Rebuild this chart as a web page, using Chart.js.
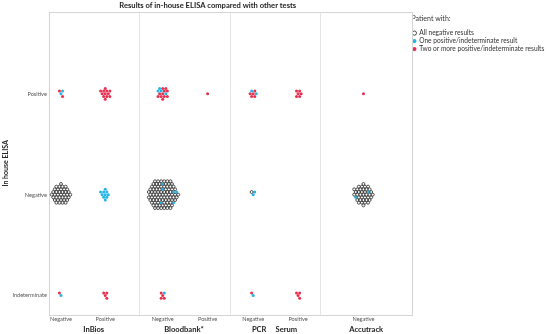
<!DOCTYPE html>
<html>
<head>
<meta charset="utf-8">
<script src="https://cdn.jsdelivr.net/npm/chart.js@4.4.1/dist/chart.umd.min.js"></script>
<style>
html,body{margin:0;padding:0;background:#fff;}
#wrap{width:550px;height:334px;}
</style>
</head>
<body>
<div id="wrap"><canvas id="chart"></canvas></div>
<script>
// rows of the in-house ELISA result (y = 0, 1, 2)
const rowLabels = ["Indeterminate", "Negative", "Positive"];
// columns: other test and its result
const colTests = ["InBios", "InBios", "Bloodbank*", "Bloodbank*", "PCR", "Serum", "Accutrack"];
const colResults = ["Negative", "Positive", "Negative", "Positive", "Negative", "Positive", "Negative"];
const groupNames = ["InBios", "Bloodbank*", "PCR", "Serum", "Accutrack"];

// number of patients per cell  [row][column]
const allNegative = [
    [0, 0, 0, 0, 0, 0, 0],
    [38, 0, 84, 0, 1, 0, 38],
    [0, 0, 0, 0, 0, 0, 0]
];
const onePositive = [
    [1, 0, 1, 0, 1, 0, 0],
    [0, 10, 6, 0, 2, 0, 2],
    [2, 0, 4, 0, 2, 0, 0]
];
const twoOrMore = [
    [1, 4, 4, 0, 1, 4, 0],
    [0, 0, 0, 0, 0, 0, 0],
    [2, 12, 11, 1, 5, 6, 1]
];

// where each column / group label sits on the 0..4 panel axis
const colPos = [0.134, 0.622, 1.256, 1.751, 2.254, 2.749, 3.47];
const groupPos = [0.495, 1.49, 2.32, 2.62, 3.5];

const DOT = 3.1; // px between dot centres

Chart.defaults.font.family = "Lato";
Chart.defaults.color = "#333";

function hexSlots(n, s){
    const pts = [];
    const R = Math.ceil(Math.sqrt(n)) + 2;
    for(let r = -R; r <= R; r++){
        for(let c = -R; c <= R; c++){
            const x = (c + (Math.abs(r) % 2) * 0.5) * s;
            const y = r * s * 0.866;
            pts.push({x: x, y: y, d: Math.hypot(x, y), a: Math.atan2(y, x)});
        }
    }
    pts.sort((p, q) => (p.d - q.d) || (p.a - q.a));
    return pts.slice(0, n);
}

// majority kind fills the cell, minority kinds spread through it
function mixKinds(counts){
    const n = counts.reduce((a, b) => a + b, 0);
    const order = [0, 1, 2].filter(k => counts[k] > 0).sort((a, b) => counts[b] - counts[a]);
    const kinds = new Array(n).fill(order[0]);
    order.slice(1).forEach((k, m) => {
        for(let j = 0; j < counts[k]; j++){
            let idx = Math.floor((j + 0.5 + m * 0.3) * n / counts[k]);
            while(kinds[idx] !== order[0] && idx < n - 1) idx++;
            kinds[Math.min(idx, n - 1)] = k;
        }
    });
    return kinds;
}

const panelBox = {
    id: "panelBox",
    beforeDatasetsDraw(c){
        const a = c.chartArea, g = c.ctx;
        g.save();
        g.strokeStyle = "#d4d4d4";
        g.lineWidth = 1;
        g.strokeRect(Math.round(a.left) + 0.5, Math.round(a.top) + 0.5, Math.round(a.right - a.left), Math.round(a.bottom - a.top));
        g.restore();
    }
};

const topTitle = {
    id: "topTitle",
    afterDraw(c){
        const g = c.ctx;
        g.save();
        g.font = "bold 7.6px Lato";
        g.fillStyle = "#222";
        g.textAlign = "center";
        g.textBaseline = "middle";
        g.fillText("Results of in-house ELISA compared with other tests", c.chartArea.right / 2 + 2, 6);
        g.restore();
    }
};

const chart = new Chart(document.getElementById("chart"), {
    type: "scatter",
    data: {
        datasets: [
            {label: "All negative results", data: [], pointRadius: 1.45, pointHoverRadius: 1.45,
             backgroundColor: "#ffffff", borderColor: "#1a1a1a", borderWidth: 0.75},
            {label: "One positive/indeterminate result", data: [], pointRadius: 1.5, pointHoverRadius: 1.5,
             backgroundColor: "#22b5e6", borderColor: "#22b5e6", borderWidth: 0},
            {label: "Two or more positive/indeterminate results", data: [], pointRadius: 1.5, pointHoverRadius: 1.5,
             backgroundColor: "#e8304e", borderColor: "#e8304e", borderWidth: 0}
        ]
    },
    options: {
        responsive: true,
        maintainAspectRatio: false,
        animation: false,
        layout: {padding: {top: 12, left: 2, right: 2, bottom: 0}},
        plugins: {
            title: {display: false},
            tooltip: {enabled: false},
            legend: {
                position: "right",
                align: "start",
                title: {display: true, text: "Patient with:", position: "start",
                        font: {size: 7}, color: "#333", padding: {top: 3, bottom: 5}},
                labels: {usePointStyle: true, pointStyle: "circle", boxWidth: 3, boxHeight: 3,
                         padding: 1.4, font: {size: 6.6}, color: "#333"}
            }
        },
        scales: {
            x: {
                type: "linear", position: "bottom", min: 0, max: 4, weight: 0,
                grid: {display: false, drawTicks: false}, border: {display: false},
                afterBuildTicks: axis => { axis.ticks = colPos.map(v => ({value: v})); },
                ticks: {font: {size: 5.6, lineHeight: 1}, color: "#555", padding: 2, maxRotation: 0,
                        callback: (v, i) => colResults[i]}
            },
            xg: {
                type: "linear", position: "bottom", min: 0, max: 4, weight: 1,
                grid: {display: false, drawTicks: false}, border: {display: false},
                afterBuildTicks: axis => { axis.ticks = groupPos.map(v => ({value: v})); },
                ticks: {font: {size: 7.6, weight: "bold", lineHeight: 1}, color: "#222", padding: 1, maxRotation: 0,
                        callback: (v, i) => groupNames[i]}
            },
            xp: {
                type: "linear", position: "top", min: 0, max: 4,
                grid: {display: true, color: "#e4e4e4", drawTicks: false, lineWidth: 1},
                border: {display: false},
                afterBuildTicks: axis => { axis.ticks = [1, 2, 3].map(v => ({value: v})); },
                ticks: {display: false}
            },
            y: {
                type: "linear", min: -0.19, max: 2.81,
                grid: {display: false, drawTicks: false}, border: {display: false},
                afterBuildTicks: axis => { axis.ticks = [0, 1, 2].map(v => ({value: v})); },
                ticks: {font: {size: 5.6}, color: "#555", padding: 2,
                        callback: v => rowLabels[v]},
                title: {display: true, text: "In house ELISA", font: {size: 7, weight: "bold"},
                        color: "#222", padding: {top: 0, bottom: 0}}
            }
        }
    },
    plugins: [panelBox, topTitle]
});

function placePoints(){
    const xs = chart.scales.x, ys = chart.scales.y;
    const sets = [[], [], []];
    rowLabels.forEach((_, r) => {
        colPos.forEach((cx, c) => {
            const counts = [allNegative[r][c], onePositive[r][c], twoOrMore[r][c]];
            const n = counts[0] + counts[1] + counts[2];
            if(!n) return;
            const slots = hexSlots(n, DOT);
            const kinds = mixKinds(counts);
            const px = xs.getPixelForValue(cx), py = ys.getPixelForValue(r);
            slots.forEach((p, i) => {
                sets[kinds[i]].push({x: xs.getValueForPixel(px + p.x), y: ys.getValueForPixel(py + p.y)});
            });
        });
    });
    chart.data.datasets.forEach((d, i) => { d.data = sets[i]; });
    chart.update("none");
}

placePoints();
</script>
</body>
</html>
